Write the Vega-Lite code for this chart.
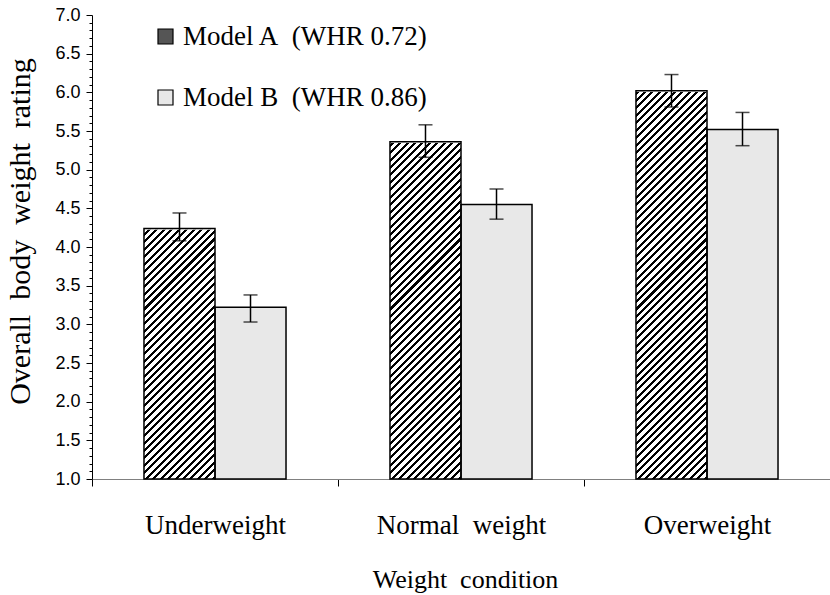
{
  "$schema": "https://vega.github.io/schema/vega-lite/v6.json",
  "width": 738,
  "height": 464,
  "autosize": {"type": "none"},
  "padding": {"left": 92, "top": 15, "right": 0, "bottom": 116},
  "background": "white",
  "config": {"view": {"stroke": null}, "font": "Liberation Serif"},
  "data": {"values": [
    {"cond": "Underweight", "model": "Model A\u00a0 (WHR 0.72)", "mean": 4.24, "lo": 4.08, "hi": 4.44},
    {"cond": "Underweight", "model": "Model B\u00a0 (WHR 0.86)", "mean": 3.22, "lo": 3.03, "hi": 3.38},
    {"cond": "Normal\u00a0 weight", "model": "Model A\u00a0 (WHR 0.72)", "mean": 5.36, "lo": 5.16, "hi": 5.58},
    {"cond": "Normal\u00a0 weight", "model": "Model B\u00a0 (WHR 0.86)", "mean": 4.55, "lo": 4.36, "hi": 4.75},
    {"cond": "Overweight", "model": "Model A\u00a0 (WHR 0.72)", "mean": 6.02, "lo": 5.81, "hi": 6.23},
    {"cond": "Overweight", "model": "Model B\u00a0 (WHR 0.86)", "mean": 5.52, "lo": 5.31, "hi": 5.74}
  ]},
  "resolve": {"axis": {"y": "independent"}},
  "encoding": {
    "x": {
      "field": "cond", "type": "nominal",
      "sort": ["Underweight", "Normal\u00a0 weight", "Overweight"],
      "scale": {"paddingInner": 0, "paddingOuter": 0},
      "title": "Weight\u00a0 condition",
      "axis": {
        "tickBand": "extent", "labelAngle": 0,
        "labelFont": "Liberation Serif", "labelFontSize": 27, "labelColor": "black",
        "labelBaseline": "alphabetic", "labelPadding": 47,
        "tickSize": 7, "tickColor": "black", "tickWidth": 1,
        "domainColor": "#808080", "domainWidth": 1.2,
        "titleFont": "Liberation Serif", "titleFontSize": 26, "titleFontWeight": "normal", "titleColor": "black",
        "titleBaseline": "alphabetic", "titleY": 108, "titleX": 373
      }
    },
    "xOffset": {
      "field": "model", "type": "nominal",
      "sort": ["Model A\u00a0 (WHR 0.72)", "Model B\u00a0 (WHR 0.86)"],
      "scale": {"paddingInner": 0, "paddingOuter": 0.732}
    }
  },
  "layer": [
    {
      "mark": {"type": "bar"},
      "encoding": {
        "y": {
          "field": "mean", "type": "quantitative",
          "scale": {"domain": [1, 7], "zero": false, "nice": false},
          "title": "Overall\u00a0 body\u00a0 weight\u00a0 rating",
          "axis": {
            "orient": "left",
            "values": [1,1.1,1.2,1.3,1.4,1.5,1.6,1.7,1.8,1.9,2,2.1,2.2,2.3,2.4,2.5,2.6,2.7,2.8,2.9,3,3.1,3.2,3.3,3.4,3.5,3.6,3.7,3.8,3.9,4,4.1,4.2,4.3,4.4,4.5,4.6,4.7,4.8,4.9,5,5.1,5.2,5.3,5.4,5.5,5.6,5.7,5.8,5.9,6,6.1,6.2,6.3,6.4,6.5,6.6,6.7,6.8,6.9,7],
            "labelExpr": "abs(datum.value*2 - round(datum.value*2)) < 0.001 ? format(datum.value, '.1f') : ''",
            "tickSize": {"condition": {"test": "abs(datum.value*2 - round(datum.value*2)) < 0.001", "value": 6}, "value": 3},
            "labelFont": "Liberation Sans", "labelFontSize": 18, "labelColor": "black",
            "labelPadding": 6, "labelOverlap": false, "labelBound": false, "labelFlush": false,
            "domainColor": "black", "domainWidth": 1, "tickColor": "black", "tickWidth": 1, "grid": false,
            "titleFont": "Liberation Serif", "titleFontSize": 30, "titleFontWeight": "normal", "titleColor": "black",
            "titleX": -63, "titleY": 216, "titleBaseline": "alphabetic", "titleAngle": -90, "titleAlign": "center"
          }
        },
        "y2": {"datum": 1},
        "fill": {
          "field": "model", "type": "nominal",
          "scale": {"domain": ["Model A\u00a0 (WHR 0.72)", "Model B\u00a0 (WHR 0.86)"], "range": ["#555555", "#e8e8e8"]},
          "legend": {
            "orient": "none", "legendX": 60, "legendY": 8, "title": null, "padding": 0,
            "symbolType": "square", "symbolSize": 225, "symbolStrokeColor": "black", "symbolStrokeWidth": 1.2,
            "labelFont": "Liberation Serif", "labelFontSize": 27, "labelColor": "black", "labelOffset": 4,
            "labelLimit": 400, "rowPadding": 33
          }
        }
      }
    },
    {
      "transform": [{"filter": "indexof(datum.model, 'Model A') === 0"}],
      "mark": {"type": "bar", "fill": {"gradient": "linear", "x1": 0, "y1": 0, "x2": 0.2058, "y2": 1.143, "stops": [
        {"offset":0,"color":"#000"},{"offset":0.0065,"color":"#000"},{"offset":0.0065,"color":"#fff"},{"offset":0.016,"color":"#fff"},
        {"offset":0.016,"color":"#000"},{"offset":0.0225,"color":"#000"},{"offset":0.0225,"color":"#fff"},{"offset":0.032,"color":"#fff"},
        {"offset":0.032,"color":"#000"},{"offset":0.0385,"color":"#000"},{"offset":0.0385,"color":"#fff"},{"offset":0.048,"color":"#fff"},
        {"offset":0.048,"color":"#000"},{"offset":0.0545,"color":"#000"},{"offset":0.0545,"color":"#fff"},{"offset":0.064,"color":"#fff"},
        {"offset":0.064,"color":"#000"},{"offset":0.0705,"color":"#000"},{"offset":0.0705,"color":"#fff"},{"offset":0.08,"color":"#fff"},
        {"offset":0.08,"color":"#000"},{"offset":0.0865,"color":"#000"},{"offset":0.0865,"color":"#fff"},{"offset":0.096,"color":"#fff"},
        {"offset":0.096,"color":"#000"},{"offset":0.1025,"color":"#000"},{"offset":0.1025,"color":"#fff"},{"offset":0.112,"color":"#fff"},
        {"offset":0.112,"color":"#000"},{"offset":0.1185,"color":"#000"},{"offset":0.1185,"color":"#fff"},{"offset":0.128,"color":"#fff"},
        {"offset":0.128,"color":"#000"},{"offset":0.1345,"color":"#000"},{"offset":0.1345,"color":"#fff"},{"offset":0.144,"color":"#fff"},
        {"offset":0.144,"color":"#000"},{"offset":0.1505,"color":"#000"},{"offset":0.1505,"color":"#fff"},{"offset":0.16,"color":"#fff"},
        {"offset":0.16,"color":"#000"},{"offset":0.1665,"color":"#000"},{"offset":0.1665,"color":"#fff"},{"offset":0.176,"color":"#fff"},
        {"offset":0.176,"color":"#000"},{"offset":0.1825,"color":"#000"},{"offset":0.1825,"color":"#fff"},{"offset":0.192,"color":"#fff"},
        {"offset":0.192,"color":"#000"},{"offset":0.1985,"color":"#000"},{"offset":0.1985,"color":"#fff"},{"offset":0.208,"color":"#fff"},
        {"offset":0.208,"color":"#000"},{"offset":0.2145,"color":"#000"},{"offset":0.2145,"color":"#fff"},{"offset":0.224,"color":"#fff"},
        {"offset":0.224,"color":"#000"},{"offset":0.2305,"color":"#000"},{"offset":0.2305,"color":"#fff"},{"offset":0.24,"color":"#fff"},
        {"offset":0.24,"color":"#000"},{"offset":0.2465,"color":"#000"},{"offset":0.2465,"color":"#fff"},{"offset":0.256,"color":"#fff"},
        {"offset":0.256,"color":"#000"},{"offset":0.2625,"color":"#000"},{"offset":0.2625,"color":"#fff"},{"offset":0.272,"color":"#fff"},
        {"offset":0.272,"color":"#000"},{"offset":0.2785,"color":"#000"},{"offset":0.2785,"color":"#fff"},{"offset":0.288,"color":"#fff"},
        {"offset":0.288,"color":"#000"},{"offset":0.2945,"color":"#000"},{"offset":0.2945,"color":"#fff"},{"offset":0.304,"color":"#fff"},
        {"offset":0.304,"color":"#000"},{"offset":0.3105,"color":"#000"},{"offset":0.3105,"color":"#fff"},{"offset":0.32,"color":"#fff"},
        {"offset":0.32,"color":"#000"},{"offset":0.3265,"color":"#000"},{"offset":0.3265,"color":"#fff"},{"offset":0.336,"color":"#fff"},
        {"offset":0.336,"color":"#000"},{"offset":0.3425,"color":"#000"},{"offset":0.3425,"color":"#fff"},{"offset":0.352,"color":"#fff"},
        {"offset":0.352,"color":"#000"},{"offset":0.3585,"color":"#000"},{"offset":0.3585,"color":"#fff"},{"offset":0.368,"color":"#fff"},
        {"offset":0.368,"color":"#000"},{"offset":0.3745,"color":"#000"},{"offset":0.3745,"color":"#fff"},{"offset":0.384,"color":"#fff"},
        {"offset":0.384,"color":"#000"},{"offset":0.3905,"color":"#000"},{"offset":0.3905,"color":"#fff"},{"offset":0.4,"color":"#fff"},
        {"offset":0.4,"color":"#000"},{"offset":0.4065,"color":"#000"},{"offset":0.4065,"color":"#fff"},{"offset":0.416,"color":"#fff"},
        {"offset":0.416,"color":"#000"},{"offset":0.4225,"color":"#000"},{"offset":0.4225,"color":"#fff"},{"offset":0.432,"color":"#fff"},
        {"offset":0.432,"color":"#000"},{"offset":0.4385,"color":"#000"},{"offset":0.4385,"color":"#fff"},{"offset":0.448,"color":"#fff"},
        {"offset":0.448,"color":"#000"},{"offset":0.4545,"color":"#000"},{"offset":0.4545,"color":"#fff"},{"offset":0.464,"color":"#fff"},
        {"offset":0.464,"color":"#000"},{"offset":0.4705,"color":"#000"},{"offset":0.4705,"color":"#fff"},{"offset":0.48,"color":"#fff"},
        {"offset":0.48,"color":"#000"},{"offset":0.4865,"color":"#000"},{"offset":0.4865,"color":"#fff"},{"offset":0.496,"color":"#fff"},
        {"offset":0.496,"color":"#000"},{"offset":0.5025,"color":"#000"},{"offset":0.5025,"color":"#fff"},{"offset":0.512,"color":"#fff"},
        {"offset":0.512,"color":"#000"},{"offset":0.5185,"color":"#000"},{"offset":0.5185,"color":"#fff"},{"offset":0.528,"color":"#fff"},
        {"offset":0.528,"color":"#000"},{"offset":0.5345,"color":"#000"},{"offset":0.5345,"color":"#fff"},{"offset":0.544,"color":"#fff"},
        {"offset":0.544,"color":"#000"},{"offset":0.5505,"color":"#000"},{"offset":0.5505,"color":"#fff"},{"offset":0.56,"color":"#fff"},
        {"offset":0.56,"color":"#000"},{"offset":0.5665,"color":"#000"},{"offset":0.5665,"color":"#fff"},{"offset":0.576,"color":"#fff"},
        {"offset":0.576,"color":"#000"},{"offset":0.5825,"color":"#000"},{"offset":0.5825,"color":"#fff"},{"offset":0.592,"color":"#fff"},
        {"offset":0.592,"color":"#000"},{"offset":0.5985,"color":"#000"},{"offset":0.5985,"color":"#fff"},{"offset":0.608,"color":"#fff"},
        {"offset":0.608,"color":"#000"},{"offset":0.6145,"color":"#000"},{"offset":0.6145,"color":"#fff"},{"offset":0.624,"color":"#fff"},
        {"offset":0.624,"color":"#000"},{"offset":0.6305,"color":"#000"},{"offset":0.6305,"color":"#fff"},{"offset":0.64,"color":"#fff"},
        {"offset":0.64,"color":"#000"},{"offset":0.6465,"color":"#000"},{"offset":0.6465,"color":"#fff"},{"offset":0.656,"color":"#fff"},
        {"offset":0.656,"color":"#000"},{"offset":0.6625,"color":"#000"},{"offset":0.6625,"color":"#fff"},{"offset":0.672,"color":"#fff"},
        {"offset":0.672,"color":"#000"},{"offset":0.6785,"color":"#000"},{"offset":0.6785,"color":"#fff"},{"offset":0.688,"color":"#fff"},
        {"offset":0.688,"color":"#000"},{"offset":0.6945,"color":"#000"},{"offset":0.6945,"color":"#fff"},{"offset":0.704,"color":"#fff"},
        {"offset":0.704,"color":"#000"},{"offset":0.7105,"color":"#000"},{"offset":0.7105,"color":"#fff"},{"offset":0.72,"color":"#fff"},
        {"offset":0.72,"color":"#000"},{"offset":0.7265,"color":"#000"},{"offset":0.7265,"color":"#fff"},{"offset":0.736,"color":"#fff"},
        {"offset":0.736,"color":"#000"},{"offset":0.7425,"color":"#000"},{"offset":0.7425,"color":"#fff"},{"offset":0.752,"color":"#fff"},
        {"offset":0.752,"color":"#000"},{"offset":0.7585,"color":"#000"},{"offset":0.7585,"color":"#fff"},{"offset":0.768,"color":"#fff"},
        {"offset":0.768,"color":"#000"},{"offset":0.7745,"color":"#000"},{"offset":0.7745,"color":"#fff"},{"offset":0.784,"color":"#fff"},
        {"offset":0.784,"color":"#000"},{"offset":0.7905,"color":"#000"},{"offset":0.7905,"color":"#fff"},{"offset":0.8,"color":"#fff"},
        {"offset":0.8,"color":"#000"},{"offset":0.8065,"color":"#000"},{"offset":0.8065,"color":"#fff"},{"offset":0.816,"color":"#fff"},
        {"offset":0.816,"color":"#000"},{"offset":0.8225,"color":"#000"},{"offset":0.8225,"color":"#fff"},{"offset":0.832,"color":"#fff"},
        {"offset":0.832,"color":"#000"},{"offset":0.8385,"color":"#000"},{"offset":0.8385,"color":"#fff"},{"offset":0.848,"color":"#fff"},
        {"offset":0.848,"color":"#000"},{"offset":0.8545,"color":"#000"},{"offset":0.8545,"color":"#fff"},{"offset":0.864,"color":"#fff"},
        {"offset":0.864,"color":"#000"},{"offset":0.8705,"color":"#000"},{"offset":0.8705,"color":"#fff"},{"offset":0.88,"color":"#fff"},
        {"offset":0.88,"color":"#000"},{"offset":0.8865,"color":"#000"},{"offset":0.8865,"color":"#fff"},{"offset":0.896,"color":"#fff"},
        {"offset":0.896,"color":"#000"},{"offset":0.9025,"color":"#000"},{"offset":0.9025,"color":"#fff"},{"offset":0.912,"color":"#fff"},
        {"offset":0.912,"color":"#000"},{"offset":0.9185,"color":"#000"},{"offset":0.9185,"color":"#fff"},{"offset":0.928,"color":"#fff"},
        {"offset":0.928,"color":"#000"},{"offset":0.9345,"color":"#000"},{"offset":0.9345,"color":"#fff"},{"offset":0.944,"color":"#fff"},
        {"offset":0.944,"color":"#000"},{"offset":0.9505,"color":"#000"},{"offset":0.9505,"color":"#fff"},{"offset":0.96,"color":"#fff"},
        {"offset":0.96,"color":"#000"},{"offset":0.9665,"color":"#000"},{"offset":0.9665,"color":"#fff"},{"offset":0.976,"color":"#fff"},
        {"offset":0.976,"color":"#000"},{"offset":0.9825,"color":"#000"},{"offset":0.9825,"color":"#fff"},{"offset":0.992,"color":"#fff"},
        {"offset":0.992,"color":"#000"},{"offset":0.9985,"color":"#000"},{"offset":0.9985,"color":"#fff"},{"offset":1,"color":"#fff"}
      ]}},
      "encoding": {
        "y": {"datum": 1, "type": "quantitative", "axis": null},
        "y2": {"datum": 6.1}
      }
    },
    {
      "transform": [{"filter": "indexof(datum.model, 'Model A') === 0"}],
      "mark": {"type": "bar", "fill": "white", "stroke": "white", "strokeWidth": 2.5},
      "encoding": {
        "y": {"field": "mean", "type": "quantitative", "axis": null},
        "y2": {"datum": 6.2}
      }
    },
    {
      "mark": {"type": "bar", "fill": "transparent", "stroke": "black", "strokeWidth": 1.5},
      "encoding": {
        "y": {"field": "mean", "type": "quantitative", "axis": null},
        "y2": {"datum": 1}
      }
    },
    {
      "mark": {"type": "rule", "color": "black", "strokeWidth": 1.5},
      "encoding": {
        "y": {"field": "lo", "type": "quantitative", "axis": null},
        "y2": {"field": "hi"}
      }
    },
    {
      "mark": {"type": "tick", "color": "black", "size": 14, "thickness": 1.5},
      "encoding": {
        "y": {"field": "hi", "type": "quantitative", "axis": null}
      }
    },
    {
      "mark": {"type": "tick", "color": "black", "size": 14, "thickness": 1.5},
      "encoding": {
        "y": {"field": "lo", "type": "quantitative", "axis": null}
      }
    }
  ]
}
